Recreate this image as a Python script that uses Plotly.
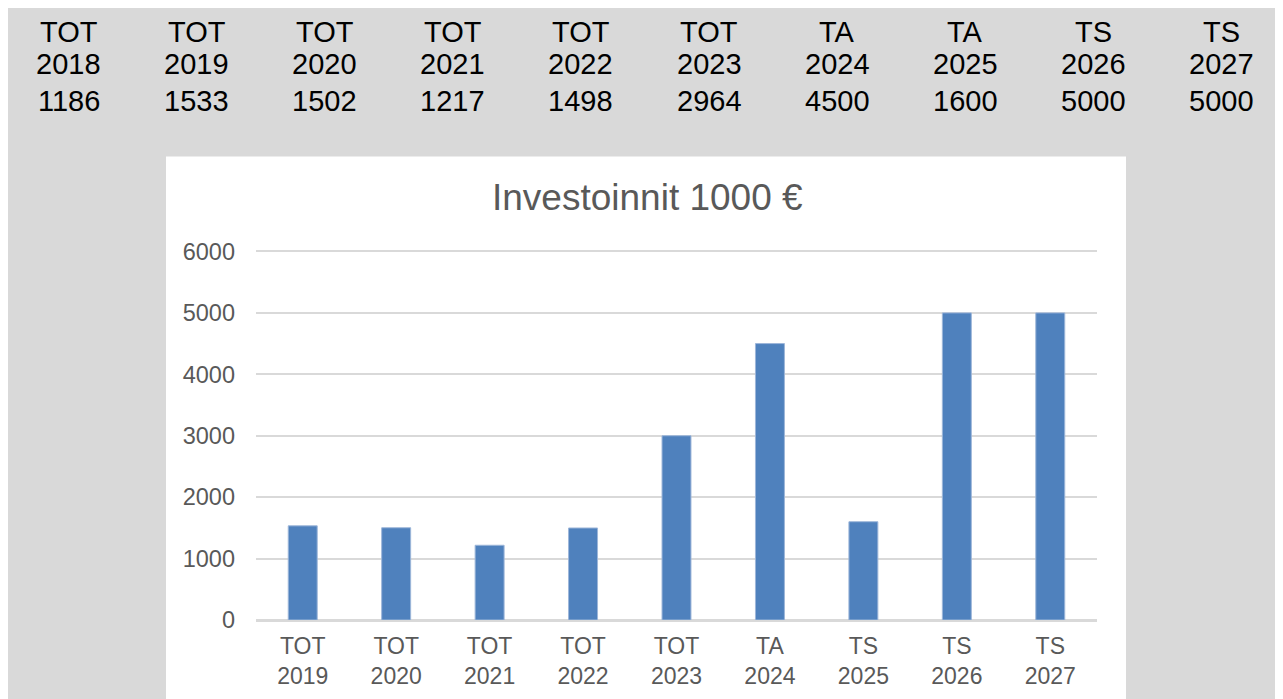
import plotly.graph_objects as go

# ---- data ----
table_groups = ["TOT", "TOT", "TOT", "TOT", "TOT", "TOT", "TA", "TA", "TS", "TS"]
table_years = ["2018", "2019", "2020", "2021", "2022", "2023", "2024", "2025", "2026", "2027"]
table_values = ["1186", "1533", "1502", "1217", "1498", "2964", "4500", "1600", "5000", "5000"]

categories = ["TOT<br>2019", "TOT<br>2020", "TOT<br>2021", "TOT<br>2022", "TOT<br>2023",
              "TA<br>2024", "TS<br>2025", "TS<br>2026", "TS<br>2027"]
values = [1533, 1502, 1217, 1498, 3000, 4500, 1600, 5000, 5000]
y_ticks = [0, 1000, 2000, 3000, 4000, 5000, 6000]

# ---- layout geometry (pixels, in page coordinates; page body has 8px margin) ----
OFF = 8
W, H = 1283 - OFF, 699 - OFF
Y_MAX = 6040  # a little headroom so the 6000 grid line is drawn
PB = 620 - OFF
PT = PB - (620 - 251) * Y_MAX / 6000.0
PL, PR = 256 - OFF, 1097 - OFF


def px_x(x):
    return (x - OFF - PL) / (PR - PL)


def px_y(y):
    return (PB - (y - OFF)) / (PB - PT)


FONT = "Arial, 'Liberation Sans', sans-serif"

fig = go.Figure()
fig.add_trace(go.Bar(
    x=categories, y=values,
    marker=dict(color="#4f81bd", line=dict(color="#9db6d9", width=1)),
    width=0.31,
    hoverinfo="x+y",
))

shapes = [
    dict(type="rect", xref="paper", yref="paper", layer="below",
         x0=px_x(0), x1=px_x(1300), y0=px_y(720), y1=px_y(0),
         fillcolor="#d9d9d9", line=dict(width=0)),
    dict(type="rect", xref="paper", yref="paper", layer="below",
         x0=px_x(166), x1=px_x(1126), y0=px_y(720), y1=px_y(156),
         fillcolor="#ffffff", line=dict(width=0)),
]

annotations = []
col_x0, col_dx = 68.5, 128.1
row_y = [31.0, 63.0, 100.5]
for i, (g, yr, v) in enumerate(zip(table_groups, table_years, table_values)):
    cx = col_x0 + i * col_dx
    for txt, ry in zip((g, yr, v), row_y):
        annotations.append(dict(
            text=txt, xref="paper", yref="paper", x=px_x(cx), y=px_y(ry),
            xanchor="center", yanchor="middle", showarrow=False,
            font=dict(family=FONT, size=29, color="#000000"),
        ))

annotations.append(dict(
    text="Investoinnit 1000 €", xref="paper", yref="paper",
    x=px_x(647), y=px_y(197), xanchor="center", yanchor="middle",
    showarrow=False, font=dict(family=FONT, size=37, color="#595959"),
))

fig.update_layout(
    width=W, height=H,
    margin=dict(l=PL, r=W - PR, t=PT, b=H - PB, pad=0, autoexpand=False),
    paper_bgcolor="#d9d9d9",
    plot_bgcolor="#ffffff",
    showlegend=False,
    shapes=shapes,
    annotations=annotations,
    font=dict(family=FONT, color="#595959"),
)
fig.update_xaxes(
    showgrid=False, showline=True, linecolor="#d9d9d9", linewidth=1.5,
    ticks="", tickfont=dict(family=FONT, size=23, color="#595959"),
    ticklabelstandoff=5, fixedrange=True, automargin=False,
)
fig.update_yaxes(
    range=[0, Y_MAX], tickvals=y_ticks, ticktext=[str(t) for t in y_ticks],
    showgrid=True, gridcolor="#d9d9d9", gridwidth=1.5,
    zeroline=True, zerolinecolor="#d9d9d9", zerolinewidth=1.5,
    showline=False, ticks="",
    tickfont=dict(family=FONT, size=23.5, color="#595959"),
    ticklabelstandoff=20, fixedrange=True, automargin=False,
)

fig.write_html("out.html", config={"displayModeBar": False})
